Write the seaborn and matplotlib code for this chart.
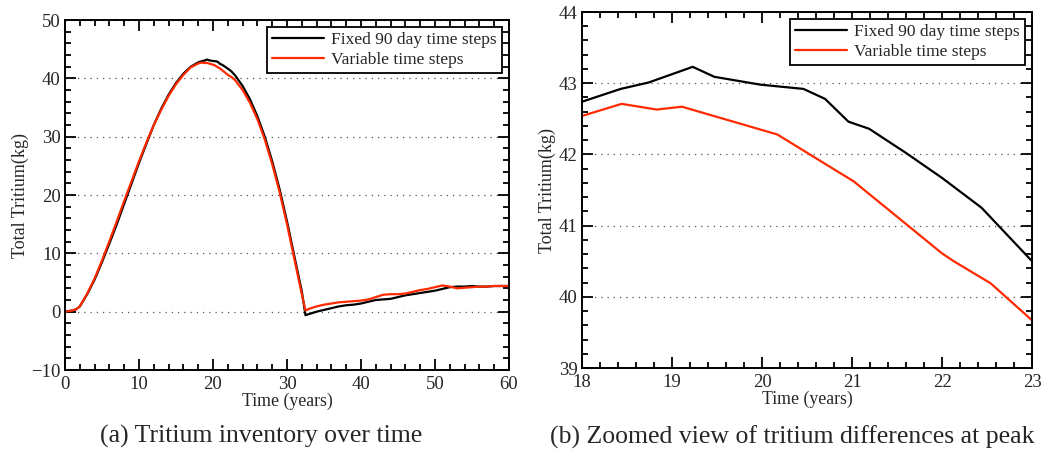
import numpy as np
import pandas as pd
import matplotlib
matplotlib.use("Agg")
import matplotlib.pyplot as plt
from matplotlib.ticker import MultipleLocator
import seaborn as sns

# Total tritium inventory (kg) versus time (years)
fixed_time = [0, 1, 1.5, 2, 3, 4, 5, 6, 7, 8, 9, 10, 11, 12, 13, 14, 15, 16, 17,
              18, 18.43, 18.74, 19.23, 19.47, 19.98, 20.46, 20.7, 20.96, 21.19,
              21.6, 22, 22.44, 23, 24, 25, 26, 27, 28, 29, 30, 31, 32, 32.5,
              33, 34, 35, 36, 37, 38, 39, 40, 41, 42, 43, 44, 45, 46, 47, 48,
              49, 50, 51, 52, 53, 54, 55, 56, 57, 58, 59, 60]
fixed_tritium = [0.0, 0.2, 0.4, 0.9, 3.0, 5.5, 8.5, 11.7, 15.0, 18.5, 22.0, 25.5,
                 28.8, 32.0, 34.8, 37.2, 39.2, 40.8, 42.0,
                 42.74, 42.92, 43.01, 43.23, 43.09, 42.98, 42.92, 42.78, 42.46,
                 42.36, 42.02, 41.67, 41.25, 40.5, 38.7, 36.4, 33.5, 30.0, 25.8,
                 21.0, 15.5, 9.5, 3.5, -0.6,
                 -0.4, 0.0, 0.3, 0.6, 0.9, 1.1, 1.2, 1.4, 1.7, 2.0, 2.1, 2.2,
                 2.5, 2.8, 3.0, 3.2, 3.4, 3.6, 3.9, 4.2, 4.3, 4.3, 4.4, 4.3,
                 4.3, 4.4, 4.4, 4.4]

variable_time = [0, 1, 1.5, 2, 3, 4, 5, 6, 7, 8, 9, 10, 11, 12, 13, 14, 15, 16, 17,
                 18, 18.44, 18.83, 19.11, 20.17, 21.02, 22, 22.13, 22.54, 23,
                 24, 25, 26, 27, 28, 29, 30, 31, 32, 32.5,
                 33, 34, 35, 36, 37, 38, 39, 40, 41, 42, 43, 44, 45, 46, 47, 48,
                 49, 50, 51, 52, 53, 54, 55, 56, 57, 58, 59, 60]
variable_tritium = [0.0, 0.2, 0.4, 0.9, 3.1, 5.7, 8.8, 12.1, 15.5, 19.0, 22.4, 25.8,
                    29.0, 32.0, 34.6, 37.0, 39.0, 40.6, 41.9,
                    42.54, 42.71, 42.63, 42.67, 42.28, 41.62, 40.61, 40.5, 40.19,
                    39.67, 38.0, 35.8, 33.0, 29.5, 25.3, 20.5, 15.0, 9.0, 3.0, 0.2,
                    0.5, 0.9, 1.2, 1.4, 1.6, 1.7, 1.8, 1.9, 2.1, 2.5, 2.9, 3.0,
                    3.0, 3.1, 3.4, 3.7, 3.9, 4.2, 4.5, 4.3, 4.0, 4.1, 4.2, 4.3,
                    4.3, 4.4, 4.4, 4.4]

series_labels = ["Fixed 90 day time steps", "Variable time steps"]
series_colors = ["black", "#ff2a00"]
captions = ["(a) Tritium inventory over time",
            "(b) Zoomed view of tritium differences at peak"]

fixed_df = pd.DataFrame({"time": fixed_time, "tritium": fixed_tritium})
variable_df = pd.DataFrame({"time": variable_time, "tritium": variable_tritium})

sns.set_style("ticks")
plt.rcParams["font.family"] = ["Liberation Serif", "DejaVu Serif"]
plt.rcParams["mathtext.fontset"] = "stix"

fig = plt.figure(figsize=(10.47, 4.55), dpi=100)
ax_full = fig.add_axes([0.0621, 0.1868, 0.4240, 0.7692])
ax_zoom = fig.add_axes([0.5559, 0.1912, 0.4298, 0.7824])


def draw(ax, xlim, ylim, xmaj, ymaj):
    for df, lab, col in zip([fixed_df, variable_df], series_labels, series_colors):
        sns.lineplot(data=df, x="time", y="tritium", ax=ax, color=col,
                     linewidth=1.6, label=lab, sort=False, estimator=None)
    ax.set_xlim(*xlim)
    ax.set_ylim(*ylim)
    ax.xaxis.set_major_locator(MultipleLocator(xmaj))
    ax.xaxis.set_minor_locator(MultipleLocator(xmaj / 5))
    ax.yaxis.set_major_locator(MultipleLocator(ymaj))
    ax.yaxis.set_minor_locator(MultipleLocator(ymaj / 5))
    ax.tick_params(which="both", direction="in", top=True, right=True,
                   labelsize=13.5, width=1.3, color="black")
    ax.tick_params(axis="x", which="both", pad=4)
    ax.tick_params(axis="y", which="both", pad=3)
    ax.tick_params(which="major", length=8)
    ax.tick_params(which="minor", length=4.5)
    ax.yaxis.grid(True, which="major", linestyle=(0, (1, 4)), color="#555555",
                  linewidth=0.9)
    for s in ax.spines.values():
        s.set_linewidth(1.4)
        s.set_color("black")
    ax.set_xlabel("Time (years)", fontsize=12.8, labelpad=0)
    ax.set_ylabel("Total Tritium(kg)", fontsize=13, labelpad=2)
    leg = ax.legend(loc="upper right", fontsize=12.5, frameon=True, fancybox=False,
                    handlelength=3.0, borderpad=0.3, labelspacing=0.2,
                    handletextpad=0.4, borderaxespad=0.4)
    leg.get_frame().set_edgecolor("black")
    leg.get_frame().set_linewidth(1.3)
    leg.get_frame().set_alpha(1)


draw(ax_full, (0, 60), (-10, 50), 10, 10)
draw(ax_zoom, (18, 23), (39, 44), 1, 1)

fig.text(0.249, 0.04, captions[0], ha="center", va="center", fontsize=18.5)
fig.text(0.757, 0.04, captions[1], ha="center", va="center", fontsize=18.5)

fig.savefig("out.png", dpi=100)
